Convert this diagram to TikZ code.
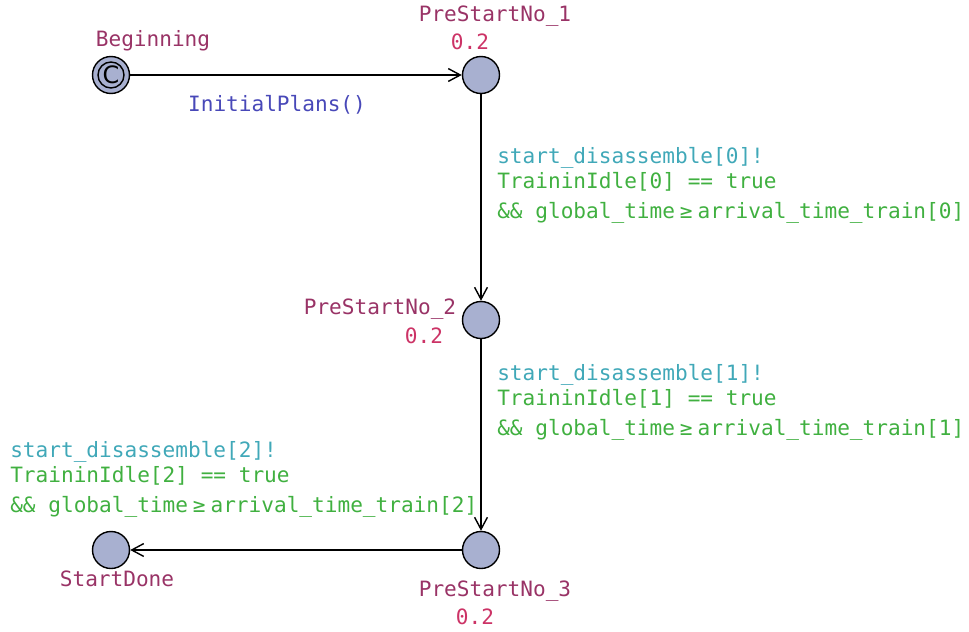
\documentclass[tikz,border=0pt]{standalone}
\usepackage{fontspec}
\setmonofont{DejaVu Sans Mono}
\setsansfont{DejaVu Sans}
\usetikzlibrary{arrows.meta}
\definecolor{locfill}{HTML}{A8B0D0}
\definecolor{namecol}{HTML}{993366}
\definecolor{ratecol}{HTML}{CC3366}
\definecolor{synccol}{HTML}{40A8B8}
\definecolor{guardcol}{HTML}{40B040}
\definecolor{updcol}{HTML}{4848B8}
\newcommand{\geqsym}{\kern3.5pt≥\kern3.5pt}
\begin{document}
\begin{tikzpicture}[x=0.025cm, y=-0.025cm, font=\ttfamily\fontsize{15}{17.8}\selectfont,
    loc/.style={draw, circle, fill=locfill, minimum size=0.925cm, inner sep=0, line width=1pt},
    trans/.style={draw, line width=1pt, -{Straight Barb[length=0.3cm, width=0.32cm]}},
    lname/.style={text=namecol, inner sep=0},
    lrate/.style={text=ratecol, inner sep=0},
    guard/.style={align=left, anchor=north west, inner sep=0, text=guardcol}]
    \useasboundingbox (0,0) rectangle (969,632);
    % locations
    \node[loc] (begin) at (111, 75) {};
    \node[circle, draw, line width=1pt, minimum size=0.65cm, inner sep=0] (beginc) at (begin) {\sffamily\fontsize{17}{17}\selectfont C};
    \node[loc] (pre1) at (481, 75) {};
    \node[loc] (pre2) at (481, 320) {};
    \node[loc] (pre3) at (481, 550) {};
    \node[loc] (done) at (111, 550) {};
    % names and rates
    \node[lname] at (153, 41) {Beginning};
    \node[lname] at (495, 16) {PreStartNo\_1};
    \node[lrate] at (470, 42) {0.2};
    \node[lname] at (380, 309) {PreStartNo\_2};
    \node[lrate] at (424, 336) {0.2};
    \node[lname] at (495, 591) {PreStartNo\_3};
    \node[lrate] at (475, 617) {0.2};
    \node[lname] at (117, 579) {StartDone};
    % transitions
    \draw[trans] (begin) -- (pre1);
    \draw[trans] (pre1) -- (pre2);
    \draw[trans] (pre2) -- (pre3);
    \draw[trans] (pre3) -- (done);
    \node[text=updcol, inner sep=0] at (277, 105) {InitialPlans()};
    \node[guard] at (497, 147) {\textcolor{synccol}{start\_disassemble[0]!}\\TraininIdle[0] == true\\[3.5pt]\&\& global\_time\geqsym arrival\_time\_train[0]};
    \node[guard] at (497, 364) {\textcolor{synccol}{start\_disassemble[1]!}\\TraininIdle[1] == true\\[3.5pt]\&\& global\_time\geqsym arrival\_time\_train[1]};
    \node[guard] at (10, 441) {\textcolor{synccol}{start\_disassemble[2]!}\\TraininIdle[2] == true\\[3.5pt]\&\& global\_time\geqsym arrival\_time\_train[2]};
\end{tikzpicture}
\end{document}
